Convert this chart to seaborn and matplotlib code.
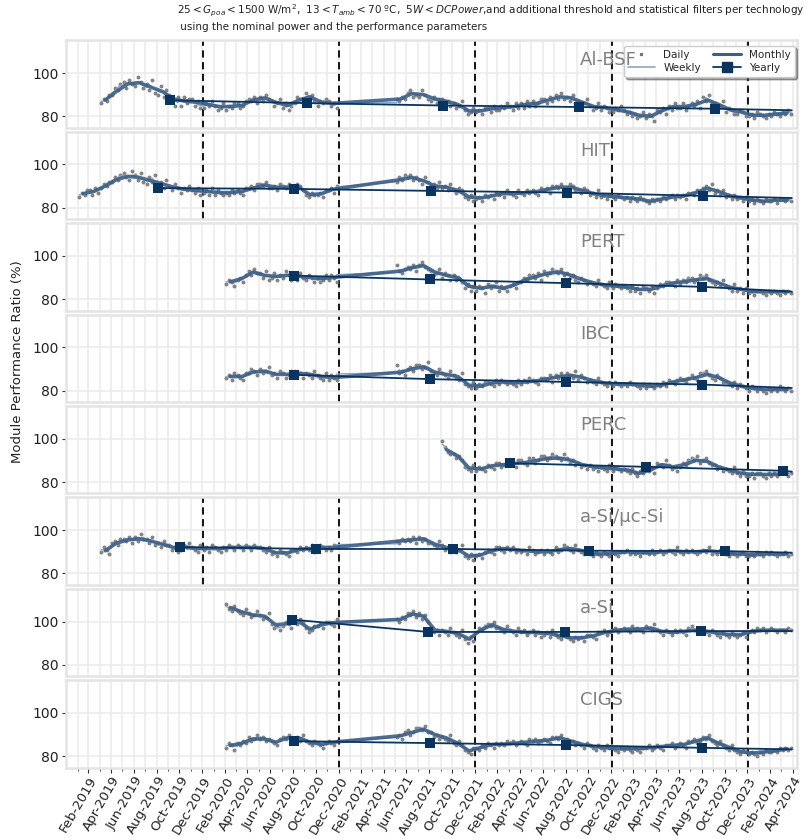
import numpy as np
import pandas as pd
import matplotlib
matplotlib.use("Agg")
import matplotlib.pyplot as plt
import matplotlib.dates as mdates
import matplotlib.ticker as mticker
from matplotlib.lines import Line2D
import seaborn as sns

N = None
TECHNOLOGIES = ["Al-BSF", "HIT", "PERT", "IBC", "PERC", "a-Si/µc-Si", "a-Si", "CIGS"]

# Monthly PR (%) Jan-2019 .. Apr-2024 (64 months), None = no data
MONTHLY_ALBSF = [N, N, N, 87.5, 91.5, 95, 95.5, 93.5, 91.5, 88, 87, 86.5,
                 85.5, 84.5, 84.5, 85, 87.5, 88.5, 86.5, 85, 87.5, 89, 86.5, 86,
                 N, N, N, N, N, 88, 90.5, 90, 88, 87, 85.5, 82.5,
                 82.5, 83.5, 84, 84.5, 85.5, 86, 87.5, 89, 88.5, 86.5, 84.5, 84,
                 83, 82, 80.5, 80, 82.5, 84.5, 84.5, 85.5, 87.5, 85.5, 83, 82,
                 80.5, 80.5, 81, 81.5]
MONTHLY_HIT = [N, 86.5, 87.5, 90, 93, 94.5, 94, 92.5, 91, 89.5, 88.5, 88,
               87.5, 87, 87, 87.5, 89, 90.5, 89.5, 89.5, 89.5, 86, 86.5, 88.5,
               N, N, N, N, N, 93, 94, 92.5, 90, 89.5, 88, 85,
               84.5, 85.5, 86.5, 86.5, 87, 87.5, 88.5, 89.5, 89.5, 88, 86.5, 85.5,
               85, 84.5, 84, 83, 84, 85, 85.5, 87, 89, 87.5, 85.5, 84.5,
               83.5, 83, 83.5, 83.5]
MONTHLY_PERT = [N] * 12 + [N, N, 88, 89.5, 92.5, 91, 90.5, 91, 90.5, 90, 89.5, 90] + \
               [N] * 5 + [93, 94.5, 95.5, 92.5, 91, 90, 86] + \
               [85, 86, 85, 86.5, 89, 90.5, 92, 92.5, 91, 89, 87.5, 86.5] + \
               [86, 85.5, 84.5, 84.5, 86, 87.5, 88, 89, 89.5, 87.5, 85.5, 84.5] + \
               [83.5, 83.5, 83.5, 83.5]
MONTHLY_IBC = [N] * 12 + [N, N, 86.5, 86.5, 88.5, 89, 87.5, 87.5, 88, 87.5, 86.5, 86] + \
              [N] * 5 + [88.5, 90, 91, 88.5, 87.5, 86.5, 82.5] + \
              [82, 83.5, 84, 83.5, 84, 84.5, 85.5, 86.5, 87, 86, 84.5, 83.5] + \
              [83, 83, 82.5, 82, 82.5, 84, 85, 86, 87.5, 86, 83.5, 82] + \
              [81, 80.5, 80.5, 80.5]
MONTHLY_PERC = [N] * 33 + [95, 92, 86.5] + \
               [86, 87.5, 88, 88.5, 89, 90, 91, 91, 90, 88, 87, 86.5] + \
               [86, 85.5, 84, 85.5, 88, 87, 88, 90, 89.5, 87, 85.5, 84] + \
               [83.5, 83.5, 83.5, 84]
MONTHLY_ASIUC = [N, N, N, 90.5, 94, 95.5, 96, 95, 93.5, 92, 92, 91.5] + \
                [91.5, 91.5, 92, 92, 92, 91.5, 89.5, 89.5, 91, 91.5, 92, 92] + \
                [N] * 5 + [95, 95.5, 96, 93.5, 92, 91, 88] + \
                [88.5, 90.5, 91.5, 91, 90.5, 90, 90, 91, 91.5, 90.5, 89, 89] + \
                [89.5, 90, 89.5, 89.5, 90, 90.5, 90, 90, 90.5, 90, 89, 89] + \
                [88.5, 89, 89, 89]
MONTHLY_ASI = [N] * 12 + [N, N, 106.5, 104.5, 103, 102.5, 98.5, 99, 100, 96.5, 98.5, 99.5] + \
              [N] * 5 + [101, 103.5, 102.5, 96, 95.5, 94.5, 92] + \
              [96, 98.5, 96.5, 95.5, 95, 95, 94.5, 93.5, 92.5, 92.5, 93.5, 95] + \
              [96, 96.5, 96.5, 97, 95.5, 95, 95.5, 96, 95.5, 94.5, 94, 94] + \
              [95.5, 96, 96, 96]
MONTHLY_CIGS = [N] * 12 + [N, N, 85, 86, 88, 88, 86.5, 88.5, 88.5, 86.5, 85.5, 86.5] + \
               [N] * 5 + [89.5, 91, 92.5, 90, 88.5, 86, 82.5] + \
               [84, 85.5, 85.5, 86, 86.5, 87, 87.5, 88.5, 87, 85.5, 84.5, 84] + \
               [83.5, 83.5, 83.5, 84, 84.5, 85, 85.5, 87, 88.5, 86, 84, 82] + \
               [81.5, 82, 82.5, 83.5]

# Daily PR samples (4 per month with data)
DAILY_ALBSF = [86, 88, 87, 90, 90, 93, 92, 95, 96, 93, 97, 95, 94, 98, 96, 93, 95, 92, 97, 91,
               90, 94, 89, 92, 90, 87, 85, 89, 85, 89, 86, 88, 88, 85, 87, 84,
               84, 86, 85, 87, 85, 83, 84, 86, 83, 85, 84, 86, 86, 84, 85, 87, 88, 87, 89, 86,
               89, 87, 90, 88, 87, 85, 86, 88, 84, 86, 83, 85, 86, 89, 88, 87, 91, 88, 90, 87,
               85, 87, 86, 88, 87, 85, 86, 84,
               88, 87, 89, 88, 91, 92, 89, 90, 89, 92, 90, 88, 87, 89, 86, 88, 88, 86, 87, 85,
               86, 84, 85, 87, 83, 81, 82, 84,
               82, 83, 81, 84, 84, 82, 85, 83, 83, 85, 84, 86, 85, 83, 86, 84, 86, 84, 87, 85,
               87, 85, 86, 88, 88, 86, 89, 87, 90, 88, 91, 88, 89, 87, 90, 86, 87, 85, 86, 88,
               85, 83, 84, 86, 83, 85, 84, 82,
               82, 84, 83, 85, 83, 81, 82, 80, 81, 79, 80, 82, 79, 81, 80, 78, 83, 82, 84, 81,
               85, 83, 86, 84, 84, 86, 83, 85, 86, 85, 87, 84, 89, 87, 90, 86, 86, 84, 85, 87,
               82, 84, 83, 81, 81, 83, 82, 80,
               80, 81, 79, 82, 81, 80, 79, 81, 80, 82, 81, 80, 82, 81, 83, 81]
DAILY_HIT = [85, 87, 86, 88, 88, 86, 89, 87, 89, 91, 90, 92, 92, 94, 93, 95, 96, 94, 93, 97,
             95, 93, 96, 92, 91, 94, 92, 95, 90, 92, 89, 93, 90, 88, 91, 89, 87, 89, 88, 90,
             88, 87, 89, 86,
             87, 88, 86, 89, 86, 88, 87, 86, 87, 86, 88, 87, 88, 87, 86, 89, 89, 90, 88, 91,
             91, 90, 92, 89, 89, 90, 88, 91, 90, 89, 91, 88, 89, 91, 90, 88, 86, 85, 87, 86,
             86, 87, 85, 88, 88, 89, 87, 90,
             92, 94, 93, 95, 94, 95, 93, 94, 93, 91, 94, 92, 90, 91, 89, 92, 89, 90, 88, 91,
             88, 87, 89, 88, 85, 84, 86, 83,
             84, 85, 83, 86, 85, 86, 84, 87, 86, 87, 85, 88, 87, 86, 85, 88, 87, 86, 88, 87,
             88, 87, 86, 89, 88, 89, 87, 90, 90, 89, 91, 88, 89, 91, 90, 88, 88, 87, 89, 88,
             86, 87, 85, 88, 85, 86, 84, 86,
             85, 84, 86, 85, 84, 85, 83, 85, 84, 83, 85, 84, 83, 82, 84, 83, 84, 83, 85, 84,
             85, 86, 84, 86, 85, 86, 84, 87, 87, 86, 88, 87, 89, 90, 88, 91, 87, 88, 86, 88,
             85, 86, 84, 86, 84, 85, 83, 85,
             83, 84, 82, 84, 83, 82, 84, 83, 83, 84, 82, 84, 84, 83, 84, 83]
DAILY_PERT = [87, 89, 88, 86, 89, 90, 88, 91, 93, 91, 94, 92, 92, 90, 93, 89, 90, 92, 89, 91,
              90, 93, 91, 89, 91, 89, 92, 90, 89, 91, 90, 88, 90, 88, 89, 91, 89, 91, 90, 88,
              96, 93, 92, 94, 95, 94, 96, 93, 96, 97, 95, 94, 93, 91, 92, 94, 90, 92, 91, 89,
              91, 89, 90, 88, 85, 87, 84, 86,
              84, 86, 85, 83, 87, 85, 86, 88, 84, 86, 85, 84, 86, 87, 85, 88, 88, 90, 89, 91,
              91, 90, 92, 89, 93, 91, 92, 94, 93, 92, 94, 91, 92, 90, 91, 89, 88, 90, 89, 87,
              88, 87, 86, 89, 87, 86, 85, 88,
              85, 87, 86, 85, 86, 85, 84, 86, 84, 85, 83, 86, 85, 84, 86, 83, 85, 87, 86, 88,
              88, 87, 86, 89, 87, 89, 88, 90, 90, 88, 89, 91, 90, 91, 89, 88, 87, 88, 86, 89,
              86, 85, 84, 87, 84, 85, 83, 85,
              83, 84, 82, 84, 84, 83, 82, 84, 83, 84, 83, 82, 84, 83, 84, 83]
DAILY_IBC = [86, 87, 85, 88, 87, 86, 85, 88, 88, 90, 89, 87, 90, 88, 89, 91, 87, 88, 86, 89,
             88, 86, 87, 89, 89, 87, 88, 86, 88, 87, 86, 89, 87, 86, 85, 88, 85, 87, 86, 85,
             92, 88, 89, 87, 90, 91, 89, 92, 92, 90, 91, 93, 89, 88, 87, 90, 88, 87, 86, 89,
             87, 86, 85, 88, 83, 82, 81, 84,
             81, 83, 82, 84, 84, 83, 82, 85, 83, 85, 84, 83, 84, 83, 82, 85, 83, 85, 84, 86,
             85, 84, 83, 86, 86, 85, 87, 84, 87, 86, 88, 85, 88, 87, 86, 89, 85, 87, 86, 84,
             85, 84, 83, 86, 84, 83, 82, 84,
             82, 84, 83, 82, 83, 82, 84, 83, 83, 82, 81, 83, 81, 83, 82, 81, 83, 82, 84, 82,
             85, 84, 83, 85, 86, 85, 84, 86, 87, 86, 85, 88, 88, 89, 87, 86, 85, 87, 86, 84,
             84, 83, 82, 84, 81, 83, 82, 81,
             80, 82, 81, 80, 81, 80, 79, 81, 80, 81, 80, 82, 81, 80, 81, 80]
DAILY_PERC = [99, 96, 94, 93, 93, 91, 92, 90, 87, 86, 85, 88,
              85, 87, 86, 85, 88, 87, 86, 89, 89, 87, 88, 90, 88, 89, 87, 90, 90, 89, 88, 91,
              91, 89, 90, 92, 92, 90, 91, 93, 92, 91, 90, 93, 91, 89, 90, 88, 89, 87, 88, 86,
              88, 86, 87, 85, 87, 86, 85, 88,
              85, 87, 86, 85, 86, 85, 84, 86, 84, 83, 85, 84, 86, 85, 87, 84, 89, 88, 87, 90,
              88, 86, 87, 85, 87, 89, 88, 90, 91, 90, 92, 89, 90, 91, 89, 88, 88, 86, 87, 85,
              86, 85, 84, 87, 84, 83, 85, 83,
              83, 84, 82, 84, 84, 83, 82, 84, 83, 84, 83, 85, 84, 85, 83, 84]
DAILY_ASIUC = [90, 92, 91, 89, 94, 95, 93, 96, 96, 95, 97, 94, 97, 95, 98, 96, 96, 94, 97, 93,
               94, 92, 95, 93, 93, 91, 92, 90, 91, 93, 92, 94, 92, 91, 90, 93,
               91, 92, 90, 93, 92, 91, 90, 92, 91, 93, 92, 91, 93, 92, 91, 93, 92, 91, 93, 92,
               92, 91, 90, 92, 89, 90, 88, 91, 90, 89, 88, 91, 91, 90, 92, 91, 92, 91, 93, 90,
               91, 93, 92, 91, 92, 91, 93, 92,
               95, 94, 96, 95, 96, 95, 97, 94, 97, 95, 96, 94, 94, 93, 92, 95, 93, 91, 92, 90,
               92, 90, 91, 93, 88, 87, 89, 86,
               88, 89, 87, 90, 91, 90, 89, 92, 92, 91, 90, 92, 91, 92, 90, 91, 90, 91, 89, 92,
               91, 89, 90, 91, 89, 91, 90, 89, 92, 90, 91, 93, 92, 91, 90, 93, 91, 90, 89, 91,
               89, 88, 90, 89, 88, 90, 89, 88,
               90, 89, 88, 90, 90, 91, 89, 90, 89, 90, 88, 90, 90, 89, 91, 89, 90, 91, 89, 90,
               91, 90, 89, 92, 90, 89, 91, 90, 91, 90, 89, 90, 91, 90, 92, 89, 90, 89, 91, 90,
               89, 88, 90, 89, 88, 89, 90, 88,
               88, 89, 88, 90, 89, 88, 90, 89, 90, 89, 88, 89, 89, 90, 88, 89]
DAILY_ASI = [108, 106, 105, 107, 105, 104, 103, 106, 104, 102, 103, 105, 103, 101, 102, 104,
             99, 97, 98, 96, 98, 100, 99, 97, 102, 99, 101, 100, 97, 95, 96, 98,
             98, 99, 97, 100, 100, 99, 98, 101,
             101, 100, 102, 101, 104, 103, 105, 102, 104, 101, 103, 100, 97, 95, 96, 94,
             96, 95, 94, 97, 95, 94, 93, 96, 92, 90, 93, 91,
             95, 97, 96, 98, 99, 98, 100, 97, 97, 96, 95, 98, 96, 95, 94, 97, 95, 96, 94, 95,
             96, 94, 95, 93, 94, 95, 93, 96, 94, 93, 92, 95, 93, 92, 91, 93, 92, 93, 91, 94,
             94, 93, 92, 95, 95, 96, 94, 95,
             96, 97, 95, 96, 97, 96, 95, 98, 96, 97, 96, 95, 98, 97, 96, 99, 96, 95, 94, 96,
             95, 94, 96, 95, 96, 95, 94, 97, 98, 96, 95, 97, 96, 95, 94, 96, 95, 94, 93, 95,
             94, 93, 95, 94, 93, 94, 95, 93,
             95, 96, 95, 97, 96, 97, 95, 96, 97, 96, 95, 96, 96, 95, 97, 96]
DAILY_CIGS = [84, 86, 85, 83, 86, 85, 87, 86, 89, 87, 88, 90, 88, 89, 87, 88, 87, 86, 85, 88,
              89, 88, 90, 87, 88, 89, 87, 90, 87, 86, 85, 87, 86, 85, 84, 86, 87, 86, 85, 87,
              89, 90, 88, 91, 92, 90, 91, 93, 93, 92, 94, 91, 91, 89, 90, 88, 89, 88, 87, 90,
              86, 85, 87, 85, 83, 82, 81, 84,
              84, 83, 85, 84, 86, 85, 84, 86, 85, 86, 85, 87, 86, 87, 85, 86, 87, 86, 85, 88,
              87, 88, 86, 87, 88, 87, 86, 89, 89, 88, 90, 87, 88, 86, 87, 85, 86, 85, 84, 86,
              85, 84, 83, 85, 84, 83, 85, 84,
              84, 83, 82, 84, 83, 84, 83, 82, 84, 83, 82, 84, 84, 85, 83, 84, 85, 84, 83, 85,
              85, 86, 84, 85, 86, 85, 84, 87, 87, 88, 86, 87, 89, 88, 90, 87, 86, 85, 87, 85,
              84, 83, 85, 83, 82, 81, 83, 82,
              81, 82, 81, 80, 82, 81, 83, 82, 82, 83, 82, 84, 83, 84, 83, 84]

# Yearly PR markers
YEARLY_DATES_ALBSF = ["2019-10-06", "2020-10-06", "2021-10-06", "2022-10-06", "2023-10-06"]
YEARLY_ALBSF = [87.4, 86.1, 85.0, 84.3, 83.5]
YEARLY_DATES_HIT = ["2019-09-03", "2020-09-03", "2021-09-03", "2022-09-03", "2023-09-03"]
YEARLY_HIT = [89.1, 88.7, 87.8, 87.0, 85.5]
YEARLY_DATES_PERT = ["2020-09-01", "2021-09-01", "2022-09-01", "2023-09-01"]
YEARLY_PERT = [90.9, 89.1, 87.4, 85.7]
YEARLY_DATES_IBC = ["2020-09-01", "2021-09-01", "2022-09-01", "2023-09-01"]
YEARLY_IBC = [87.3, 85.3, 84.0, 82.8]
YEARLY_DATES_PERC = ["2022-04-04", "2023-04-04", "2024-04-04"]
YEARLY_PERC = [88.7, 87.0, 85.2]
YEARLY_DATES_ASIUC = ["2019-11-01", "2020-11-01", "2021-11-01", "2022-11-01", "2023-11-01"]
YEARLY_ASIUC = [92.2, 91.3, 91.3, 90.5, 90.3]
YEARLY_DATES_ASI = ["2020-08-28", "2021-08-28", "2022-08-28", "2023-08-28"]
YEARLY_ASI = [100.9, 95.2, 95.2, 95.6]
YEARLY_DATES_CIGS = ["2020-09-01", "2021-09-01", "2022-09-01", "2023-09-01"]
YEARLY_CIGS = [87.0, 86.1, 85.2, 83.9]
YEARLY_END = [82.8, 84.5, 83.5, 81.2, 84.8, 89.6, 95.6, 83.2]
DATA_END = "2024-04-28"

MONTHLY = [MONTHLY_ALBSF, MONTHLY_HIT, MONTHLY_PERT, MONTHLY_IBC, MONTHLY_PERC,
           MONTHLY_ASIUC, MONTHLY_ASI, MONTHLY_CIGS]
DAILY = [DAILY_ALBSF, DAILY_HIT, DAILY_PERT, DAILY_IBC, DAILY_PERC,
         DAILY_ASIUC, DAILY_ASI, DAILY_CIGS]
YDATES = [YEARLY_DATES_ALBSF, YEARLY_DATES_HIT, YEARLY_DATES_PERT, YEARLY_DATES_IBC,
          YEARLY_DATES_PERC, YEARLY_DATES_ASIUC, YEARLY_DATES_ASI, YEARLY_DATES_CIGS]
YVALS = [YEARLY_ALBSF, YEARLY_HIT, YEARLY_PERT, YEARLY_IBC, YEARLY_PERC,
         YEARLY_ASIUC, YEARLY_ASI, YEARLY_CIGS]

# ---------------------------------------------------------------- style
sns.set_theme(style="whitegrid")
plt.rcParams["font.family"] = ["DejaVu Sans"]

C_DAILY = "#6e6e6e"
C_WEEK = "#8fa6c3"
C_MONTH = "#3b5f87"
C_YEAR = "#0a3460"

months = pd.date_range("2019-01-01", periods=64, freq="MS")
DAY_POS = [3, 10, 18, 25]

fig, axes = plt.subplots(8, 1, figsize=(8.1, 8.4), dpi=100, sharex=True)
fig.subplots_adjust(left=0.0815, right=0.984, top=0.952, bottom=0.086, hspace=0.045)

major = pd.date_range("2019-02-01", "2024-04-01", freq="2MS") + pd.offsets.MonthEnd(0)
minor = pd.date_range("2019-01-01", "2024-05-01", freq="MS") + pd.offsets.MonthEnd(0)

for i, ax in enumerate(axes):
    mon = MONTHLY[i]
    have = [m for m, v in zip(months, mon) if v is not None]
    mvals = [v for v in mon if v is not None]
    ddates = [m + pd.Timedelta(days=o) for m in have for o in DAY_POS]
    n = min(len(ddates), len(DAILY[i]))
    daily = pd.DataFrame({"date": ddates[:n], "pr": DAILY[i][:n]})
    weekly = pd.DataFrame({"date": daily["date"],
                           "pr": daily["pr"].rolling(3, center=True, min_periods=1).mean()})
    monthly = pd.DataFrame({"date": [m + pd.Timedelta(days=14) for m in have], "pr": mvals})
    ydf = pd.DataFrame({"date": pd.to_datetime(YDATES[i]), "pr": YVALS[i]})
    yline = pd.concat([ydf, pd.DataFrame({"date": [pd.Timestamp(DATA_END)],
                                          "pr": [YEARLY_END[i]]})], ignore_index=True)

    sns.scatterplot(data=daily, x="date", y="pr", ax=ax, s=8, color=C_DAILY,
                    linewidth=0, alpha=0.85, zorder=2, legend=False)
    sns.lineplot(data=weekly, x="date", y="pr", ax=ax, color=C_WEEK, lw=1.0,
                 estimator=None, zorder=3, legend=False)
    sns.lineplot(data=monthly, x="date", y="pr", ax=ax, color=C_MONTH, lw=2.6,
                 alpha=0.9, estimator=None, zorder=4, legend=False)
    sns.lineplot(data=yline, x="date", y="pr", ax=ax, color=C_YEAR, lw=1.3,
                 estimator=None, zorder=5, legend=False)
    sns.scatterplot(data=ydf, x="date", y="pr", ax=ax, marker="s", s=60,
                    color=C_YEAR, linewidth=0, zorder=6, legend=False)

    first = daily["date"].min()
    for yr in range(2020, 2025):
        d = pd.Timestamp(yr, 1, 1)
        if d > first:
            ax.axvline(d, color="black", lw=1.3, ls=(0, (4, 2.5)), zorder=1.6)

    ax.text(0.703, 0.78, TECHNOLOGIES[i], transform=ax.transAxes, fontsize=13,
            color="#808080", ha="left", va="center", zorder=7)

    ax.set_ylim(74.7, 115.1)
    ax.set_yticks([80, 100])
    ax.set_xlim(pd.Timestamp("2018-12-31"), pd.Timestamp("2024-05-12"))
    ax.set_xlabel("")
    ax.set_ylabel("")
    ax.xaxis.set_major_locator(mticker.FixedLocator(mdates.date2num(major)))
    ax.xaxis.set_minor_locator(mticker.FixedLocator(mdates.date2num(minor)))
    ax.xaxis.set_major_formatter(mdates.DateFormatter("%b-%Y"))
    ax.grid(True, which="both", axis="x", color="#ebebeb", lw=1.1)
    ax.grid(True, which="major", axis="y", color="#ebebeb", lw=1.1)
    for sp in ax.spines.values():
        sp.set_color("#e4e4e4")
        sp.set_linewidth(1.8)
    ax.tick_params(axis="y", left=True, length=3, width=0.8, color="#333333",
                   labelsize=10, pad=2, labelcolor="#222222")
    if i < 7:
        ax.tick_params(axis="x", which="both", bottom=False, labelbottom=False)
    else:
        ax.tick_params(axis="x", which="major", bottom=True, length=3.5, width=0.8,
                       color="#333333", labelsize=9.5, pad=1, labelcolor="#222222")
        ax.tick_params(axis="x", which="minor", bottom=True, length=2, width=0.6,
                       color="#333333")
        for lab in ax.get_xticklabels():
            lab.set_rotation(60)
            lab.set_ha("right")
            lab.set_rotation_mode("anchor")

handles = [
    Line2D([], [], ls="none", marker=".", ms=3, color=C_DAILY),
    Line2D([], [], color=C_WEEK, lw=1.2),
    Line2D([], [], color=C_MONTH, lw=2.2),
    Line2D([], [], color=C_YEAR, lw=1.3, marker="s", ms=7),
]
axes[0].legend(handles, ["Daily", "Weekly", "Monthly", "Yearly"], ncol=2,
               loc="upper right", bbox_to_anchor=(1.004, 1.0), fontsize=7.5,
               frameon=True, framealpha=1, edgecolor="#cccccc", shadow=True,
               handlelength=2.6, columnspacing=1.2, borderpad=0.4, labelspacing=0.3)

fig.text(0.022, 0.569, "Module Performance Ratio (%)", rotation=90, fontsize=9.5,
         ha="center", va="center", color="#222222")
title = (r"25$<G_{poa}<$1500 W/m$^2$,  13$<T_{amb}<$70 ºC,  5$W<DCPower$,"
         "and additional threshold and statistical filters per technology\n"
         " using the nominal power and the performance parameters")
fig.text(0.2185, 0.997, title, fontsize=7.5, ha="left", va="top", color="#222222",
         linespacing=1.35)

fig.savefig("out.png", dpi=100)
